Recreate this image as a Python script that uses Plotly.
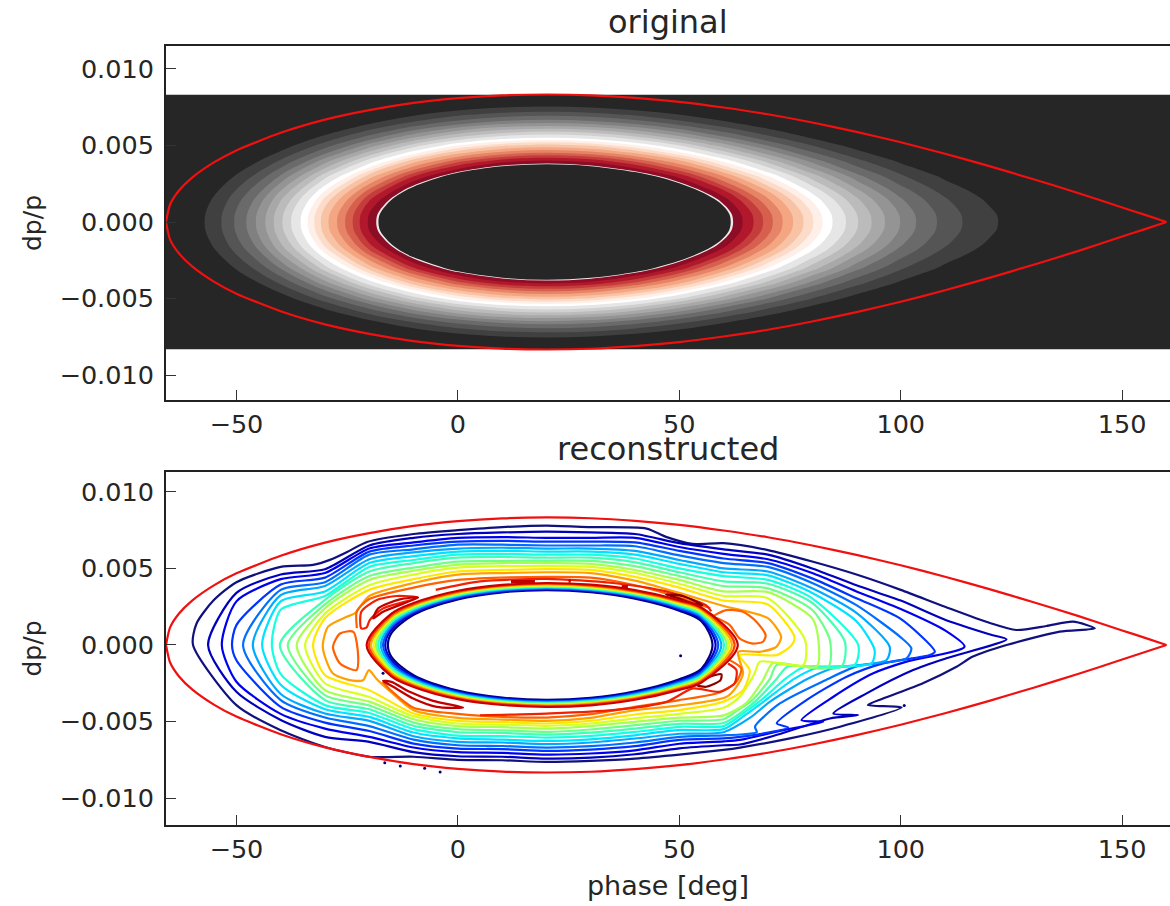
import plotly.graph_objects as go

# ---------- top panel: density table (dp in units of 0.001) ----------
grid_phi = [-66,-60,-50,-40,-30,-20,-10,0,10,20,30,40,50,60,70,80,90,100,110,120,130,140,150,160,161]
grid_dp = [0,0.5,1,1.5,2,3,4,5,6,7,8,8.33]
z_row_0 = [0,8.4,21.9,34,44.7,53.5,60.5,65.5,68.4,69.4,68.5,65.8,61.6,56,49.5,42.3,34.7,27.1,19.9,13.3,7.8,3.6,.9,0,0]
z_row_1 = [-.2,8.2,21.7,33.8,44.5,53.3,60.3,65.3,68.2,69.2,68.3,65.6,61.4,55.8,49.3,42.1,34.5,26.9,19.7,13.1,7.6,3.4,.7,-.2,-.2]
z_row_2 = [-1,7.4,20.9,33,43.7,52.5,59.5,64.5,67.4,68.4,67.5,64.8,60.6,55,48.5,41.3,33.7,26.1,18.9,12.3,6.8,2.6,-.1,-1,-1]
z_row_3 = [-2.3,6.2,19.7,31.8,42.5,51.3,58.3,63.3,66.2,67.2,66.3,63.6,59.4,53.8,47.3,40.1,32.5,24.9,17.7,11.1,5.6,1.4,-1.4,-2.3,-2.3]
z_row_4 = [-4,4.4,17.9,30,40.7,49.5,56.5,61.5,64.4,65.4,64.5,61.8,57.6,52,45.5,38.3,30.7,23.1,15.9,9.3,3.8,-.4,-3.1,-4,-4]
z_row_5 = [-9,-.6,12.9,25,35.7,44.5,51.5,56.5,59.4,60.4,59.5,56.8,52.6,47,40.5,33.3,25.7,18.1,10.9,4.3,-1.2,-5.4,-8.1,-9,-9]
z_row_6 = [-16,-7.6,5.9,18,28.7,37.5,44.5,49.5,52.4,53.4,52.5,49.8,45.6,40,33.5,26.3,18.7,11.1,3.9,-2.7,-8.2,-12.4,-15.1,-16,-16]
z_row_7 = [-25,-16.6,-3.1,9,19.7,28.5,35.5,40.5,43.4,44.4,43.5,40.8,36.6,31,24.5,17.3,9.7,2.1,-5.1,-11.7,-17.2,-21.4,-24.1,-25,-25]
z_row_8 = [-36,-27.6,-14.1,-2,8.7,17.5,24.5,29.5,32.4,33.4,32.5,29.8,25.6,20,13.5,6.3,-1.3,-8.9,-16.1,-22.7,-28.2,-32.4,-35.1,-36,-36]
z_row_9 = [-49,-40.6,-27.1,-15,-4.3,4.5,11.5,16.5,19.4,20.4,19.5,16.8,12.6,7,.5,-6.7,-14.3,-21.9,-29.1,-35.7,-41.2,-45.4,-48.1,-49,-49]
z_row_10 = [-64,-55.6,-42.1,-30,-19.3,-10.5,-3.5,1.5,4.4,5.4,4.5,1.8,-2.4,-8,-14.5,-21.7,-29.3,-36.9,-44.1,-50.7,-56.2,-60.4,-63.1,-64,-64]
z_row_11 = [-69.4,-61,-47.5,-35.4,-24.7,-15.9,-8.9,-3.9,-1,0,-.9,-3.6,-7.8,-13.4,-19.9,-27.1,-34.7,-42.3,-49.5,-56.1,-61.6,-65.8,-68.5,-69.4,-69.4]
z_half = [z_row_0,z_row_1,z_row_2,z_row_3,z_row_4,z_row_5,z_row_6,z_row_7,z_row_8,z_row_9,z_row_10,z_row_11]

band_levels = [-1000,12.2,17.3,21.2,24.6,27.2,29.8,32.1,34.4,36.5,38.8,40.5,42.1,43.7,45.4,47.1,48.7,50.2,51.6,53.2,54.6,54.95]
band_colors = ["#262626","#404040","#555555","#6a6a6a","#808080","#949494","#a8a8a8","#bbbbbb","#d0d0d0","#e6e6e6","#ffffff",
               "#fef0e8","#fcdcc9","#f8c2a5","#f4a582","#e58467","#d6604d","#c43c3c","#b2182b","#8c0d25","#f0e8e8","#262626"]

# ---------- red separatrix, both panels ----------
sep_phi = [160,155,150,140,130,120,110,100,90,80,70,60,50,40,30,20,10,0,-10,-20,-30,-40,-50,-55,-60,-63,-65,-65.9]
sep_dp = [0,.48,.95,1.9,2.79,3.65,4.46,5.21,5.89,6.5,7.04,7.48,7.85,8.11,8.28,8.33,8.27,8.09,7.78,7.31,6.69,5.83,4.68,3.91,2.9,2.04,1.13,0]

# ---------- lower panel: contours ----------
L00_phi = [-59.8,-59,-55.2,-50,-40,-32.7,-28.9,-25,-20.5,-10,0,10,20,30,42.6,47,53,60,70,80,90,100,110,120,126.1,132.9,138.9,143.8,135.9,123.9,116.3,112.6,105,96,92.6,100.2,86.3,75,63.7,60,50,40,30,20,10,0,-10,-20,-30,-40,-50,-59.8]
L00_dp = [0,1.4,2.9,4.1,5.1,5.23,5.56,6.08,6.73,7.25,7.5,7.7,7.8,7.7,7.6,7.06,6.6,6.65,6.2,5.45,4.6,3.6,2.5,1.45,.98,1.24,1.52,1.09,.87,0,-.76,-1.42,-2.5,-3.5,-3.92,-4.08,-5.34,-6.1,-6.7,-6.85,-7.16,-7.42,-7.57,-7.64,-7.53,-7.5,-7.3,-7.3,-6.66,-5.57,-3.93,0]
L01_phi = [-56.4,-50,-40,-30,-20,-10,0,10,20,30,40,50,60,70,80,90,100,110,120,123.9,110.3,102.8,92.3,84.8,90.4,84,71.2,63.7,60,50,40,30,20,10,0,-10,-20,-30,-40,-50,-56.4]
L01_dp = [0,3.4,4.6,4.95,6.5,7,7.25,7.35,7.4,7.35,7.25,6.65,6.25,5.9,5,3.9,2.9,1.65,.7,.37,-.87,-1.64,-3.16,-4.47,-4.58,-4.8,-5.95,-6.5,-6.55,-6.75,-7.14,-7.36,-7.42,-7.3,-7.27,-7,-6.33,-6,-4.9,-3.06,0]
L02_phi = [-53.3,-50,-40,-30,-20,-10,0,10,20,30,40,50,60,70,80,90,100,110,114.4,101.3,93.8,84.8,77.6,82.5,73.5,63.7,60,50,40,30,20,10,0,-10,-20,-30,-40,-50,-53.3]
L02_dp = [0,2.85,4.3,4.7,6.3,6.7,7,7.05,7,7,7,6.4,5.95,5.6,4.7,3.5,2.35,.95,-.11,-1.09,-1.85,-3.38,-4.91,-5.02,-5.56,-6.2,-6.3,-6.45,-6.88,-7.09,-7.16,-7.05,-7,-6.7,-6,-5.46,-4.5,-2.4,0]
L03_phi = [-51,-50,-40,-30,-20,-10,0,10,20,30,40,50,60,70,80,90,100,107.7,106.6,96,87.8,78.7,72,74.6,68.2,63.7,60,50,40,30,20,10,0,-10,-20,-30,-40,-50,-51]
L03_dp = [0,1.3,3.95,4.4,6.1,6.5,6.75,6.8,6.75,6.75,6.7,6.15,5.65,5.35,4.35,3.05,1.7,-.44,-.66,-1.2,-2.07,-3.6,-5.12,-5.39,-5.82,-6,-6.1,-6.2,-6.61,-6.83,-6.92,-6.8,-6.77,-6.44,-5.62,-5.07,-4.04,-1,0]
L04_phi = [-48.5,-40,-30,-20,-10,0,10,20,30,40,50,60,70,80,90,100,102.4,101.3,90,83,72.7,67.1,67.5,63.7,60,50,40,30,20,10,0,-10,-20,-30,-40,-48.5]
L04_dp = [0,3.6,4.1,5.9,6.25,6.55,6.55,6.5,6.5,6.45,5.85,5.35,5.1,4.05,2.6,.5,-.22,-.87,-1.4,-2.3,-3.82,-5.34,-5.69,-5.85,-5.9,-6,-6.37,-6.61,-6.7,-6.6,-6.55,-6.18,-5.3,-4.74,-3.6,0]
L05_phi = [-46.3,-40,-30,-20,-10,0,10,20,30,40,50,60,70,80,90,97.5,96.8,85,79,70.5,66,60,50,40,30,20,10,0,-10,-20,-30,-40,-46.3]
L05_dp = [0,3.25,3.85,5.6,6.05,6.3,6.35,6.3,6.3,6.15,5.55,5,4.8,3.7,2.1,-.11,-.98,-1.5,-2.2,-3.7,-4.75,-5.7,-5.8,-6.11,-6.37,-6.48,-6.37,-6.33,-5.96,-4.96,-4.48,-3.2,0]
L06_phi = [-44.2,-40,-30,-20,-10,0,10,20,30,40,50,60,70,80,90,94.1,93.4,81,76,69.5,65,60,50,40,30,20,10,0,-10,-20,-30,-40,-44.2]
L06_dp = [0,2.85,3.5,5.35,5.8,6.1,6.15,6.1,6.1,5.9,5.3,4.75,4.55,3.4,1.55,-.33,-1.2,-1.5,-2.2,-3.6,-4.55,-5.5,-5.55,-5.9,-6.16,-6.27,-6.18,-6.1,-5.72,-4.7,-4.2,-2.6,0]
L07_phi = [-42,-40,-30,-20,-10,0,10,20,30,40,50,60,70,80,90.4,89.6,78,74,68.5,64.5,60,50,40,30,20,10,0,-10,-20,-30,-40,-42]
L07_dp = [0,2.3,3.2,5.1,5.55,5.9,5.95,5.9,5.9,5.65,5,4.5,4.25,3.05,0,-1.3,-1.45,-2.2,-3.6,-4.45,-5.3,-5.35,-5.68,-5.94,-6.05,-5.96,-5.92,-5.5,-4.44,-3.93,-1.9,0]
L08_phi = [-40.2,-30,-20,-10,0,10,20,30,40,50,60,70,80,87.4,86.6,74.5,72,67.5,64,60,50,40,30,20,10,0,-10,-20,-30,-40.2]
L08_dp = [0,2.95,4.8,5.35,5.7,5.75,5.7,5.7,5.4,4.75,4.15,4,2.75,.2,-1.42,-1.4,-2.2,-3.6,-4.4,-5.1,-5.15,-5.46,-5.72,-5.85,-5.74,-5.7,-5.28,-4.2,-3.6,0]
L09_phi = [-38.4,-30,-20,-10,0,10,20,30,40,50,60,70,80,84,83.6,72,70.5,66.5,63,60,50,40,30,20,10,0,-10,-20,-30,-38.4]
L09_dp = [0,2.65,4.5,5.05,5.45,5.5,5.5,5.5,5.15,4.5,3.85,3.7,2.3,.32,-1.46,-1.3,-2.2,-3.6,-4.3,-4.85,-4.95,-5.24,-5.52,-5.68,-5.57,-5.5,-5.07,-3.95,-3.28,0]
L10_phi = [-36.4,-30,-20,-10,0,10,20,30,40,50,60,70,80,81.4,81,71.1,68.9,65.1,60,50,40,30,20,10,0,-10,-20,-30,-36.4]
L10_dp = [0,2.4,4.25,4.85,5.25,5.35,5.35,5.3,4.9,4.25,3.5,3.45,1.75,.33,-1.42,-1.2,-2.3,-3.8,-4.6,-4.75,-5.02,-5.3,-5.46,-5.37,-5.3,-4.85,-3.7,-2.95,0]
L11_phi = [-34.5,-30,-20,-10,0,10,20,30,40,50,60,70,78.4,78,68.2,67,63.6,60,50,40,30,20,10,0,-10,-20,-30,-34.5]
L11_dp = [0,2.05,3.9,4.6,5.05,5.15,5.15,5.1,4.7,4,3.2,3.05,.33,-1.31,-1.09,-1.86,-3.39,-4.1,-4.5,-4.8,-5.13,-5.28,-5.2,-5.13,-4.65,-3.4,-2.5,0]
L12_phi = [-32.7,-30,-20,-10,0,10,20,30,40,50,60,70,76,75.4,72,63.6,65.9,64.4,60,50,40,30,20,10,0,-10,-20,-30,-32.7]
L12_dp = [0,1.75,3.6,4.3,4.8,4.9,4.95,4.9,4.45,3.75,2.9,2.65,.53,0,-.66,-.66,-1.64,-2.95,-3.7,-4.25,-4.54,-4.96,-5.13,-5.04,-4.96,-4.48,-2.95,-1.97,0]
L13_phi = [-30.5,-29.3,-25.1,-23.3,-20,-10,0,10,20,30,40,50,60,70,73,71.9,68.1,63.3,64.4,62.9,60.6,50,40,30,20,10,0,-10,-15,-18.4,-20.1,-21.4,-24.4,-28.2,-30,-30.5]
L13_dp = [0,1.2,1.84,2.06,3.2,4.05,4.6,4.7,4.75,4.7,4.2,3.4,2.55,1.75,.52,-.12,-.45,-.45,-1.86,-2.73,-3.4,-3.95,-4.26,-4.76,-4.96,-4.87,-4.76,-4.26,-3.1,-2.2,-1.64,-2.3,-2.3,-1.86,-.77,0]
level_colors = ["#10107f","#0000bd","#0000f1","#0035ff","#006eff","#00a9ff","#00e3ff","#16ffe1","#43ffb4","#6eff8a","#a8ff50","#d8ff20","#ffe800","#ffa000"]

# orange contours (islands and arcs)
I14a_phi = [-28.2,-26.6,-23.6,-22.5,-22.9,-26.6,-28.2]
I14a_dp = [-.12,.75,.86,-.77,-1.64,-1.21,-.12]
I14b_phi = [57.6,60.6,64.4,67.4,69.5,68.9,66.3,63.6,61.4,58.7,57.6]
I14b_dp = [1.84,2.28,2.17,1.52,.65,.21,.1,.43,1.3,1.73,1.84]
A14u_phi = [-22.8,-22.8,-20,-10,0,10,20,30,40,50,57]
A14u_dp = [1.1,2.2,3,3.75,4.25,4.4,4.45,4.4,3.9,3.1,2.4]
A14l_phi = [-17,-15,-10,0,10,20,30,40,50,59.1,62.9,64,61.4]
A14l_dp = [-2.4,-3,-4.1,-4.5,-4.7,-4.74,-4.52,-4.04,-3.6,-3.1,-2.4,-1.54,-.99]

# red lobes next to the ring
A15u_phi = [-5,5,20,35,47,56,57.2]
A15u_dp = [3.6,4.15,4.32,4.05,3.5,2.6,2.2]
A15l_phi = [5,20,35,47.1,53.1,59.1,62.5,62.9,61]
A15l_dp = [-4.59,-4.48,-4.26,-3.72,-2.84,-3.06,-2.5,-1.64,-1.21]
B15_phi = [-21.8,-21.8,-18.4,-13.9,-9,-16.9,-19.9,-20.6,-21.8]
B15_dp = [1.08,2.17,2.93,3.2,3.1,2.39,1.63,1.15,1.08]
B16_phi = [-19.1,-18,-13.1,-9,-16.9,-19.1]
B16_dp = [1.73,2.39,2.98,3.1,2.17,1.73]
B17_phi = [-16.9,-15,-10.9,-5.6,1.2,-4.8,-10.1,-14.6,-16.9]
B17_dp = [-2.34,-2.41,-3.06,-3.65,-4.09,-4.04,-3.5,-2.73,-2.34]
B18_phi = [47,50.8,55.2,53.1,49.3,47]
B18_dp = [3.3,3.2,2.6,2.7,3.1,3.3]
B19_phi = [54.1,56.9,59.5,59.3,56.1,54.1]
B19_dp = [-2.63,-2.08,-1.91,-2.3,-2.73,-2.63]
dash_a_phi = [12,17.4]
dash_a_dp = [4.13,4.13]
dash_b_phi = [37,38.4]
dash_b_dp = [3.8,3.8]
dash_c_phi = [25,25.5]
dash_c_dp = [4.18,4.18]

speck_phi = [-16.9,50.3,100.8,-16.5,-13,-7.5,-4]
speck_dp = [-1.85,-.7,-3.95,-7.7,-7.9,-8.05,-8.3]

# the rainbow ring around the empty centre
ring_stations = [-15,-10,0,10,20,30,40,50,55]
ring_tip_left = [-15.8,-16.4,-16.9,-17.4,-18,-18.5,-19,-19.6,-20.1,-20.6]
ring_tip_right = [57.5,58.2,58.8,59.5,60.1,60.7,61.3,61.9,62.5,63.2]
ring_0 = [.77,1.97,2.98,3.44,3.58,3.45,3.03,2.24,1.55]
ring_1 = [1,2.07,3.05,3.49,3.63,3.51,3.1,2.32,1.67]
ring_2 = [1.18,2.17,3.11,3.55,3.69,3.56,3.16,2.41,1.79]
ring_3 = [1.34,2.26,3.18,3.61,3.74,3.62,3.22,2.49,1.9]
ring_4 = [1.48,2.35,3.24,3.66,3.79,3.67,3.29,2.57,2]
ring_5 = [1.61,2.43,3.3,3.71,3.85,3.73,3.35,2.65,2.1]
ring_6 = [1.73,2.51,3.36,3.77,3.9,3.78,3.41,2.72,2.19]
ring_7 = [1.84,2.59,3.42,3.82,3.95,3.83,3.46,2.79,2.28]
ring_8 = [1.95,2.66,3.48,3.87,4,3.89,3.52,2.86,2.37]
ring_9 = [2.05,2.74,3.54,3.92,4.05,3.94,3.58,2.93,2.45]
ring_colors = ["#00007f","#0000d0","#0050ff","#00b0ff","#20ffd0","#80ff70","#e0ff10","#ffb000","#ff4000","#c80000"]

# ---------- text ----------
x_ticks = [-50,0,50,100,150]
y_ticks = [-0.010,-0.005,0.0,0.005,0.010]
title_top = "original"
title_bottom = "reconstructed"
x_label = "phase [deg]"
y_label = "dp/p"

M = 1e-3
FONT = "DejaVu Sans"


def scaled(values):
    return [v * M for v in values]


fig = go.Figure()

# top panel
z_full = [row for row in reversed(z_half[1:])] + z_half
dp_full = scaled([-d for d in reversed(grid_dp[1:])] + grid_dp)
for level, colour in zip(band_levels, band_colors):
    fig.add_trace(go.Contour(
        x=grid_phi, y=dp_full, z=z_full, xaxis="x", yaxis="y",
        contours=dict(type="constraint", operation="<=", value=level),
        fillcolor=colour, line=dict(width=0), showscale=False, hoverinfo="skip", showlegend=False))


def line(phi, dp, colour, width=2.2, axis="2", smooth=0.7):
    fig.add_trace(go.Scatter(
        x=phi, y=scaled(dp), mode="lines", xaxis="x" + axis, yaxis="y" + axis, showlegend=False,
        hoverinfo="skip", line=dict(color=colour, width=width, shape="spline", smoothing=smooth)))


def separatrix(axis):
    lower_dp = [-d for d in sep_dp]
    line(sep_phi, sep_dp, "#f01010", axis=axis, smooth=0.6)
    line(sep_phi, lower_dp, "#f01010", axis=axis, smooth=0.6)


separatrix("")

# bottom panel
levels = [(L00_phi, L00_dp), (L01_phi, L01_dp), (L02_phi, L02_dp), (L03_phi, L03_dp), (L04_phi, L04_dp),
          (L05_phi, L05_dp), (L06_phi, L06_dp), (L07_phi, L07_dp), (L08_phi, L08_dp), (L09_phi, L09_dp),
          (L10_phi, L10_dp), (L11_phi, L11_dp), (L12_phi, L12_dp), (L13_phi, L13_dp)]
for (phi, dp), colour in zip(levels, level_colors):
    line(phi, dp, colour)

for phi, dp in [(I14a_phi, I14a_dp), (I14b_phi, I14b_dp), (A14u_phi, A14u_dp), (A14l_phi, A14l_dp)]:
    line(phi, dp, "#ff6000")
for phi, dp in [(A15u_phi, A15u_dp), (A15l_phi, A15l_dp), (B15_phi, B15_dp)]:
    line(phi, dp, "#f02000")
for phi, dp in [(B16_phi, B16_dp), (B17_phi, B17_dp)]:
    line(phi, dp, "#c00000")
for phi, dp in [(B18_phi, B18_dp), (B19_phi, B19_dp)]:
    line(phi, dp, "#8a0000")
for phi, dp in [(dash_a_phi, dash_a_dp), (dash_b_phi, dash_b_dp), (dash_c_phi, dash_c_dp)]:
    line(phi, dp, "#c00000", width=3.5)

rings = [ring_0, ring_1, ring_2, ring_3, ring_4, ring_5, ring_6, ring_7, ring_8, ring_9]
for tip_l, tip_r, upper, colour in zip(ring_tip_left, ring_tip_right, rings, ring_colors):
    phi = [tip_l] + ring_stations + [tip_r] + ring_stations[::-1] + [tip_l]
    dp = [0] + upper + [0] + [-d for d in upper[::-1]] + [0]
    line(phi, dp, colour, width=2.2, smooth=0.9)

fig.add_trace(go.Scatter(x=speck_phi, y=scaled(speck_dp), mode="markers", xaxis="x2", yaxis="y2", showlegend=False,
                         hoverinfo="skip", marker=dict(color="#00007f", size=3)))
separatrix("2")

axis_common = dict(showgrid=False, zeroline=False, showline=True, linecolor="#222222", linewidth=2, mirror=True,
                   ticks="inside", ticklen=10, tickwidth=1, tickcolor="#333333",
                   tickfont=dict(family=FONT, size=25.5, color="#262626"))
x_common = dict(axis_common, range=[-65.9, 160.8], tickvals=x_ticks)
y_common = dict(axis_common, tickvals=y_ticks, tickformat=".3f", ticklabelstandoff=5)

fig.update_layout(
    width=1170, height=906, paper_bgcolor="white", plot_bgcolor="white", showlegend=False,
    margin=dict(l=166, r=0, t=0, b=0, autoexpand=False),
    xaxis=dict(x_common, domain=[0, 1], anchor="y"),
    yaxis=dict(y_common, domain=[506 / 906, 860 / 906], range=[-0.01163, 0.0115], anchor="x",
               title=dict(text=y_label, font=dict(family=FONT, size=25, color="#262626"), standoff=11)),
    xaxis2=dict(x_common, domain=[0, 1], anchor="y2",
                title=dict(text=x_label, font=dict(family=FONT, size=27, color="#262626"), standoff=14)),
    yaxis2=dict(y_common, domain=[81 / 906, 434 / 906], range=[-0.01176, 0.0113], anchor="x2",
                title=dict(text=y_label, font=dict(family=FONT, size=25, color="#262626"), standoff=11)),
    annotations=[
        dict(text=title_top, xref="paper", yref="paper", x=0.5, y=863 / 906, yanchor="bottom", showarrow=False,
             font=dict(family=FONT, size=32, color="#262626")),
        dict(text=title_bottom, xref="paper", yref="paper", x=0.5, y=436 / 906, yanchor="bottom", showarrow=False,
             font=dict(family=FONT, size=32, color="#262626")),
    ],
)

fig.write_html("out.html", config=dict(displayModeBar=False),
               post_script="document.body.style.margin='0';document.documentElement.style.overflow='hidden';")
